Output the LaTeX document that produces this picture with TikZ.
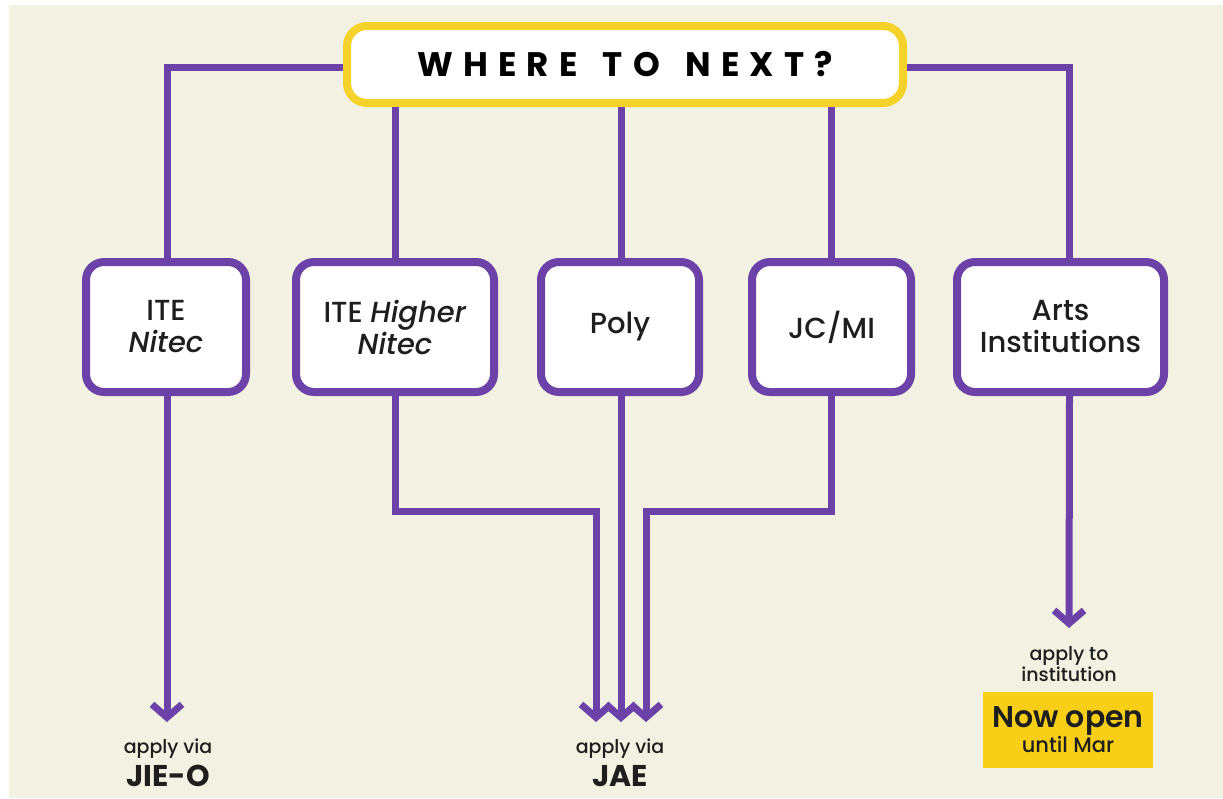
\documentclass[tikz,border=0pt]{standalone}
\usepackage{fontspec}
\setmainfont{Poppins}[UprightFont=* Medium, ItalicFont=* Medium Italic, BoldFont=* Bold, BoldItalicFont=* Bold Italic]
\newfontfamily\titlefont{Poppins}[LetterSpace=30, UprightFont=* Bold]
\newfontfamily\semifont{Poppins}[UprightFont=* SemiBold]
\usetikzlibrary{arrows.meta}
\definecolor{bg}{HTML}{F3F1E1}
\definecolor{pur}{HTML}{6C42A8}
\definecolor{yel}{HTML}{F4D22A}
\definecolor{yelfill}{HTML}{F8CE16}
\definecolor{ink}{HTML}{1E1E1E}
\begin{document}
\begin{tikzpicture}[x=1pt,y=-1pt,
  titlebox/.style={draw=yel, line width=8pt, fill=white, rounded corners=20pt,
    minimum width=556pt, minimum height=77pt, inner sep=0pt, text=black},
  box/.style={draw=pur, line width=8pt, fill=white, rounded corners=18pt,
    minimum width=#1, minimum height=130pt, inner sep=0pt, align=center,
    font=\fontsize{29}{32}\selectfont, text=ink},
  link/.style={draw=pur, line width=7pt},
  arr/.style={link, -{Straight Barb[length=13pt, width=30pt]}},
  small/.style={font=\fontsize{19}{19}\selectfont, text=ink, align=center, inner sep=0pt},
  big/.style={font=\fontsize{30}{32}\selectfont\bfseries, text=ink, inner sep=0pt}
]
\fill[white] (0,0) rectangle (1223,798);
\fill[bg] (9,5) rectangle (1223,798);
\useasboundingbox (0,0) rectangle (1223,798);

\node[titlebox] (title) at (625,64.5) {\fontsize{34}{36}\selectfont\titlefont WHERE\hspace{8pt} TO\hspace{8pt} NEXT?};

\node[box=160pt] (b1) at (166,327) {ITE\\\textit{Nitec}};
\node[box=198pt] (b2) at (395,327) {ITE \textit{Higher}\\\textit{Nitec}};
\node[box=158pt] (b3) at (620,327) {Poly};
\node[box=159pt] (b4) at (831.5,327) {JC/MI};
\node[box=207pt] (b5) at (1060.5,327) {Arts\\Institutions};

\coordinate (t1) at (167,722);
\coordinate (t2) at (596,722);
\coordinate (t3) at (621,722);
\coordinate (t4) at (646,722);
\coordinate (t5) at (1069,628);

% top connectors
\draw[link] ([yshift=-2.5pt]title.west) -| ([xshift=1pt]b1.north);
\draw[link] ([yshift=-2.5pt]title.east) -| ([xshift=9pt]b5.north);
\draw[link] (title.south -| b2.north) -- (b2.north);
\draw[link] (title.south -| t3) -- (b3.north -| t3);
\draw[link] (title.south -| b4.north) -- (b4.north);

% bottom connectors
\draw[arr] ([xshift=1pt]b1.south) -- (t1);
\draw[arr] (b2.south) -- (b2.south |- 0,511) -| (t2);
\draw[arr] (b3.south -| t3) -- (t3);
\draw[arr] (b4.south) -- (b4.south |- 0,511) -| (t4);
\draw[arr] ([xshift=9pt]b5.south) -- (t5);

% labels
\node[small] (a1) at (168,749) {apply via};
\node[big] (j1) at (168,776) {JIE-O};
\node[small] (a2) at (620,749) {apply via};
\node[big] (j2) at (620,776) {JAE};
\node[small, font=\fontsize{19}{18}\selectfont] (a5) at (1069,664) {apply to\\institution};
\node[fill=yelfill, minimum width=170pt, minimum height=76pt, inner sep=0pt, align=center, text=ink] (open) at (1068,730)
  {{\fontsize{30}{30}\selectfont\semifont Now open}\\{\fontsize{21}{22}\selectfont until Mar}};
\end{tikzpicture}
\end{document}
